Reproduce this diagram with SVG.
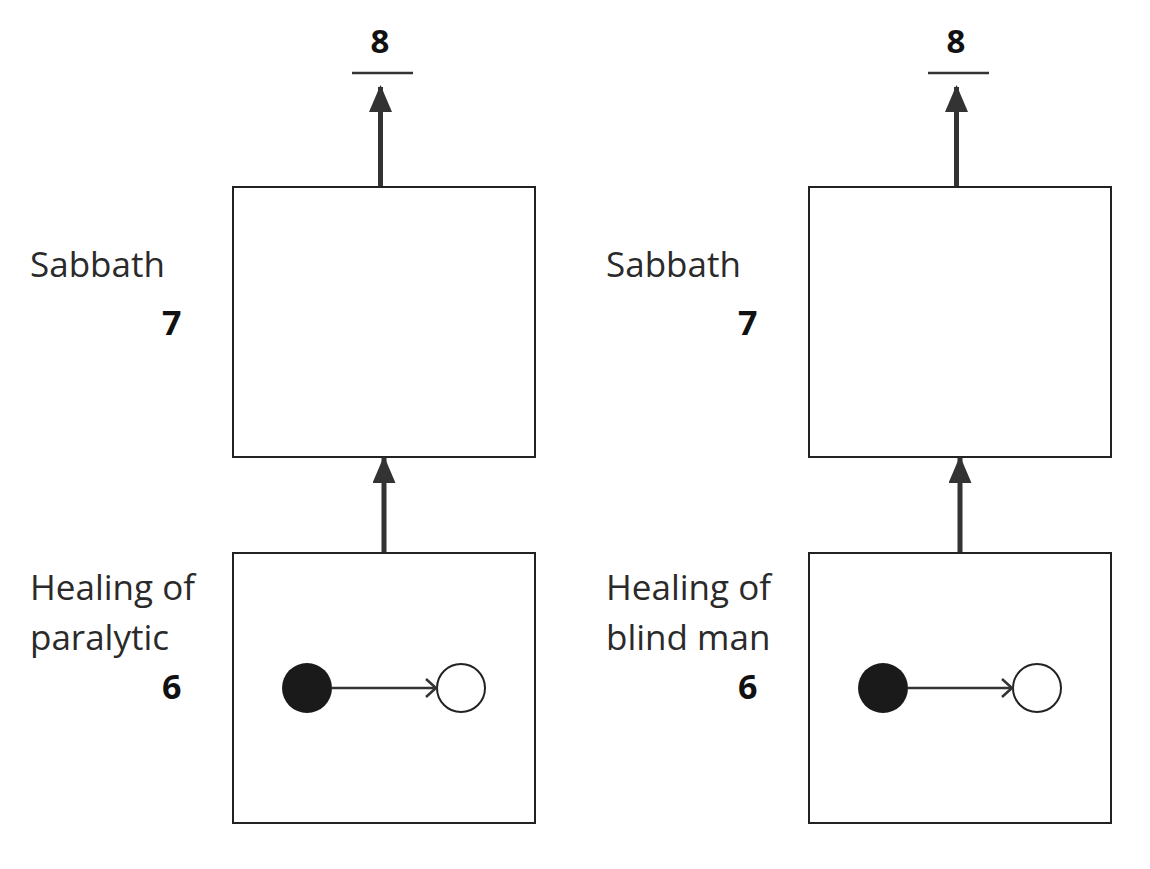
<svg xmlns="http://www.w3.org/2000/svg" width="1150" height="869" viewBox="0 0 1150 869">
<defs>
<style>
.box{fill:#fff;stroke:#222;stroke-width:2}
.lbl{font-family:"Open Sans","Liberation Sans",sans-serif;font-size:35px;font-weight:400;fill:#2a2a2a}
.num{font-family:"Open Sans","Liberation Sans",sans-serif;font-size:34px;font-weight:bold;fill:#111}
.top{font-size:33px}
.thick{stroke:#333;stroke-width:5;fill:none}
.thin{stroke:#333;stroke-width:2.5;fill:none}
</style>
<marker id="big" markerUnits="userSpaceOnUse" markerWidth="27" markerHeight="23" refX="25" refY="11.5" orient="auto" viewBox="0 0 27 23">
<path d="M0,0 L27,11.5 L0,23 z" fill="#333"/>
</marker>
<marker id="open" markerUnits="userSpaceOnUse" markerWidth="14" markerHeight="20" refX="11" refY="10" orient="auto" viewBox="0 0 14 20">
<path d="M1,1 L11,10 L1,19" fill="none" stroke="#333" stroke-width="2.5"/>
</marker>
</defs>
<rect width="1150" height="869" fill="#fff"/>

<g id="left-sabbath">
<rect class="box" x="233" y="187" width="302" height="270"/>
<text class="lbl" x="30" y="277">Sabbath</text>
<text class="num" x="162" y="335">7</text>
</g>
<g id="left-healing">
<rect class="box" x="233" y="553" width="302" height="270"/>
<text class="lbl" x="30" y="600">Healing of</text>
<text class="lbl" x="30" y="650">paralytic</text>
<text class="num" x="162" y="699">6</text>
<circle cx="307" cy="688" r="25" fill="#1a1a1a"/>
<circle cx="461" cy="688" r="24" fill="#fff" stroke="#222" stroke-width="2"/>
</g>
<g id="left-eight">
<text class="num top" x="380" y="53" text-anchor="middle">8</text>
<line x1="352" y1="73" x2="413" y2="73" stroke="#333" stroke-width="2.5"/>
</g>

<g id="right-sabbath">
<rect class="box" x="809" y="187" width="302" height="270"/>
<text class="lbl" x="606" y="277">Sabbath</text>
<text class="num" x="738" y="335">7</text>
</g>
<g id="right-healing">
<rect class="box" x="809" y="553" width="302" height="270"/>
<text class="lbl" x="606" y="600">Healing of</text>
<text class="lbl" x="606" y="650">blind man</text>
<text class="num" x="738" y="699">6</text>
<circle cx="883" cy="688" r="25" fill="#1a1a1a"/>
<circle cx="1037" cy="688" r="24" fill="#fff" stroke="#222" stroke-width="2"/>
</g>
<g id="right-eight">
<text class="num top" x="956" y="53" text-anchor="middle">8</text>
<line x1="928" y1="73" x2="989" y2="73" stroke="#333" stroke-width="2.5"/>
</g>

<g id="connectors">
<line class="thick" x1="380.5" y1="186" x2="380.5" y2="87" marker-end="url(#big)"/>
<line class="thick" x1="384" y1="552" x2="384" y2="458" marker-end="url(#big)"/>
<line class="thin" x1="332" y1="688" x2="436" y2="688" marker-end="url(#open)"/>
<line class="thick" x1="956.5" y1="186" x2="956.5" y2="87" marker-end="url(#big)"/>
<line class="thick" x1="960" y1="552" x2="960" y2="458" marker-end="url(#big)"/>
<line class="thin" x1="908" y1="688" x2="1012" y2="688" marker-end="url(#open)"/>
</g>
</svg>
